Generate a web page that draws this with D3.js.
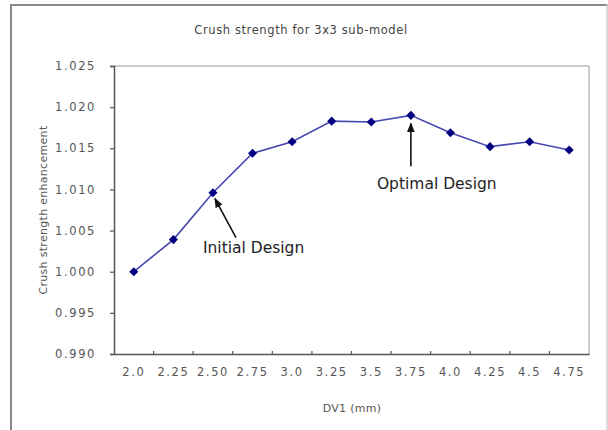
<!DOCTYPE html>
<html>
<head>
<meta charset="utf-8">
<script src="https://cdn.jsdelivr.net/npm/d3@7"></script>
<style>
  body { margin: 0; background: #fff; }
  svg { display: block; }
  .tick-label { font-family: "DejaVu Sans", sans-serif; font-size: 11.5px; fill: #555; letter-spacing: 1.6px; }
  .title { font-family: "DejaVu Sans", sans-serif; font-size: 11.5px; fill: #444; letter-spacing: 0.6px; }
  .axis-title { font-family: "DejaVu Sans", sans-serif; font-size: 11px; fill: #555; letter-spacing: 0.3px; }
  .note { font-family: "DejaVu Sans", sans-serif; font-size: 15.5px; fill: #222; }
</style>
</head>
<body>
<svg width="608" height="430"></svg>
<script>
const categories = ["2.0", "2.25", "2.50", "2.75", "3.0", "3.25", "3.5", "3.75", "4.0", "4.25", "4.5", "4.75"];
const values = [1.0000, 1.0039, 1.0096, 1.0144, 1.0158, 1.0183, 1.0182, 1.0190, 1.0169, 1.0152, 1.0158, 1.0148];
const yTicks = [0.990, 0.995, 1.000, 1.005, 1.010, 1.015, 1.020, 1.025];

const svg = d3.select("svg");
const plotL = 114, plotR = 589, plotT = 66, plotB = 354;

// outer frame
svg.append("line").attr("x1", 11).attr("x2", 608).attr("y1", 5).attr("y2", 5)
  .attr("stroke", "#888").attr("stroke-width", 2);
svg.append("line").attr("x1", 11).attr("x2", 11).attr("y1", 4).attr("y2", 430)
  .attr("stroke", "#888").attr("stroke-width", 2);
svg.append("line").attr("x1", 607).attr("x2", 607).attr("y1", 4).attr("y2", 430)
  .attr("stroke", "#ccc").attr("stroke-width", 1.5);

const x = d3.scaleBand().domain(categories).range([plotL, plotR]).padding(0);
const y = d3.scaleLinear().domain([0.99, 1.025]).range([plotB, plotT]);

// plot frame (top and right light)
svg.append("line").attr("x1", plotL).attr("x2", plotR).attr("y1", plotT).attr("y2", plotT)
  .attr("stroke", "#bbb").attr("stroke-width", 1.5);
svg.append("line").attr("x1", plotR).attr("x2", plotR).attr("y1", plotT).attr("y2", plotB)
  .attr("stroke", "#bbb").attr("stroke-width", 1.5);

// y axis
const yAxis = svg.append("g")
  .attr("transform", `translate(${plotL},0)`)
  .call(d3.axisLeft(y).tickValues(yTicks).tickFormat(d3.format(".3f")).tickSize(4).tickPadding(14));
yAxis.select(".domain").attr("stroke", "#555").attr("stroke-width", 1.5);
yAxis.selectAll(".tick line").attr("stroke", "#555").attr("stroke-width", 1.2);
yAxis.selectAll(".tick text").attr("class", "tick-label").attr("font-size", null).attr("font-family", null);

// x axis: labels at band centres, tick marks at band edges
const xAxis = svg.append("g")
  .attr("transform", `translate(0,${plotB})`)
  .call(d3.axisBottom(x).tickSize(0).tickPadding(14));
xAxis.select(".domain").attr("stroke", "#555").attr("stroke-width", 1.5);
xAxis.selectAll(".tick text").attr("class", "tick-label").attr("font-size", null).attr("font-family", null);

const edges = categories.slice(1).map(c => x(c));
svg.append("g").selectAll("line").data(edges).join("line")
  .attr("x1", d => d).attr("x2", d => d)
  .attr("y1", plotB).attr("y2", plotB - 3)
  .attr("stroke", "#555").attr("stroke-width", 1.2);

// line + markers
const cx = (d, i) => x(categories[i]) + x.bandwidth() / 2;
const line = d3.line().x(cx).y(d => y(d));
svg.append("path").datum(values)
  .attr("d", line)
  .attr("fill", "none").attr("stroke", "#4848b0").attr("stroke-width", 1.6);

svg.append("g").selectAll("path").data(values).join("path")
  .attr("d", d3.symbol(d3.symbolDiamond2, 52))
  .attr("transform", (d, i) => `translate(${cx(d, i)},${y(d)})`)
  .attr("fill", "#000080");

// annotations
svg.append("defs").append("marker")
  .attr("id", "head").attr("viewBox", "0 0 10 10")
  .attr("refX", 9).attr("refY", 5)
  .attr("markerWidth", 6).attr("markerHeight", 6)
  .attr("orient", "auto-start-reverse")
  .append("path").attr("d", "M0,1 L10,5 L0,9 Z").attr("fill", "#111");

const iInit = categories.indexOf("2.50");
const px1 = cx(values[iInit], iInit), py1 = y(values[iInit]);
svg.append("line")
  .attr("x1", px1 + 23).attr("y1", py1 + 45)
  .attr("x2", px1 + 2).attr("y2", py1 + 6)
  .attr("stroke", "#111").attr("stroke-width", 1.6)
  .attr("marker-end", "url(#head)");
svg.append("text").attr("class", "note")
  .attr("x", px1 - 10).attr("y", py1 + 60)
  .text("Initial Design");

const iOpt = categories.indexOf("3.75");
const px2 = cx(values[iOpt], iOpt), py2 = y(values[iOpt]);
svg.append("line")
  .attr("x1", px2).attr("y1", py2 + 51)
  .attr("x2", px2).attr("y2", py2 + 8)
  .attr("stroke", "#111").attr("stroke-width", 1.6)
  .attr("marker-end", "url(#head)");
svg.append("text").attr("class", "note")
  .attr("x", px2 - 34).attr("y", py2 + 74)
  .text("Optimal Design");

// titles
svg.append("text").attr("class", "title")
  .attr("x", 301).attr("y", 34).attr("text-anchor", "middle")
  .text("Crush strength for 3x3 sub-model");

svg.append("text").attr("class", "axis-title")
  .attr("transform", `translate(47,${(plotT + plotB) / 2}) rotate(-90)`)
  .attr("text-anchor", "middle")
  .text("Crush strength enhancement");

svg.append("text").attr("class", "axis-title")
  .attr("x", 352).attr("y", 412).attr("text-anchor", "middle")
  .text("DV1 (mm)");
</script>
</body>
</html>
